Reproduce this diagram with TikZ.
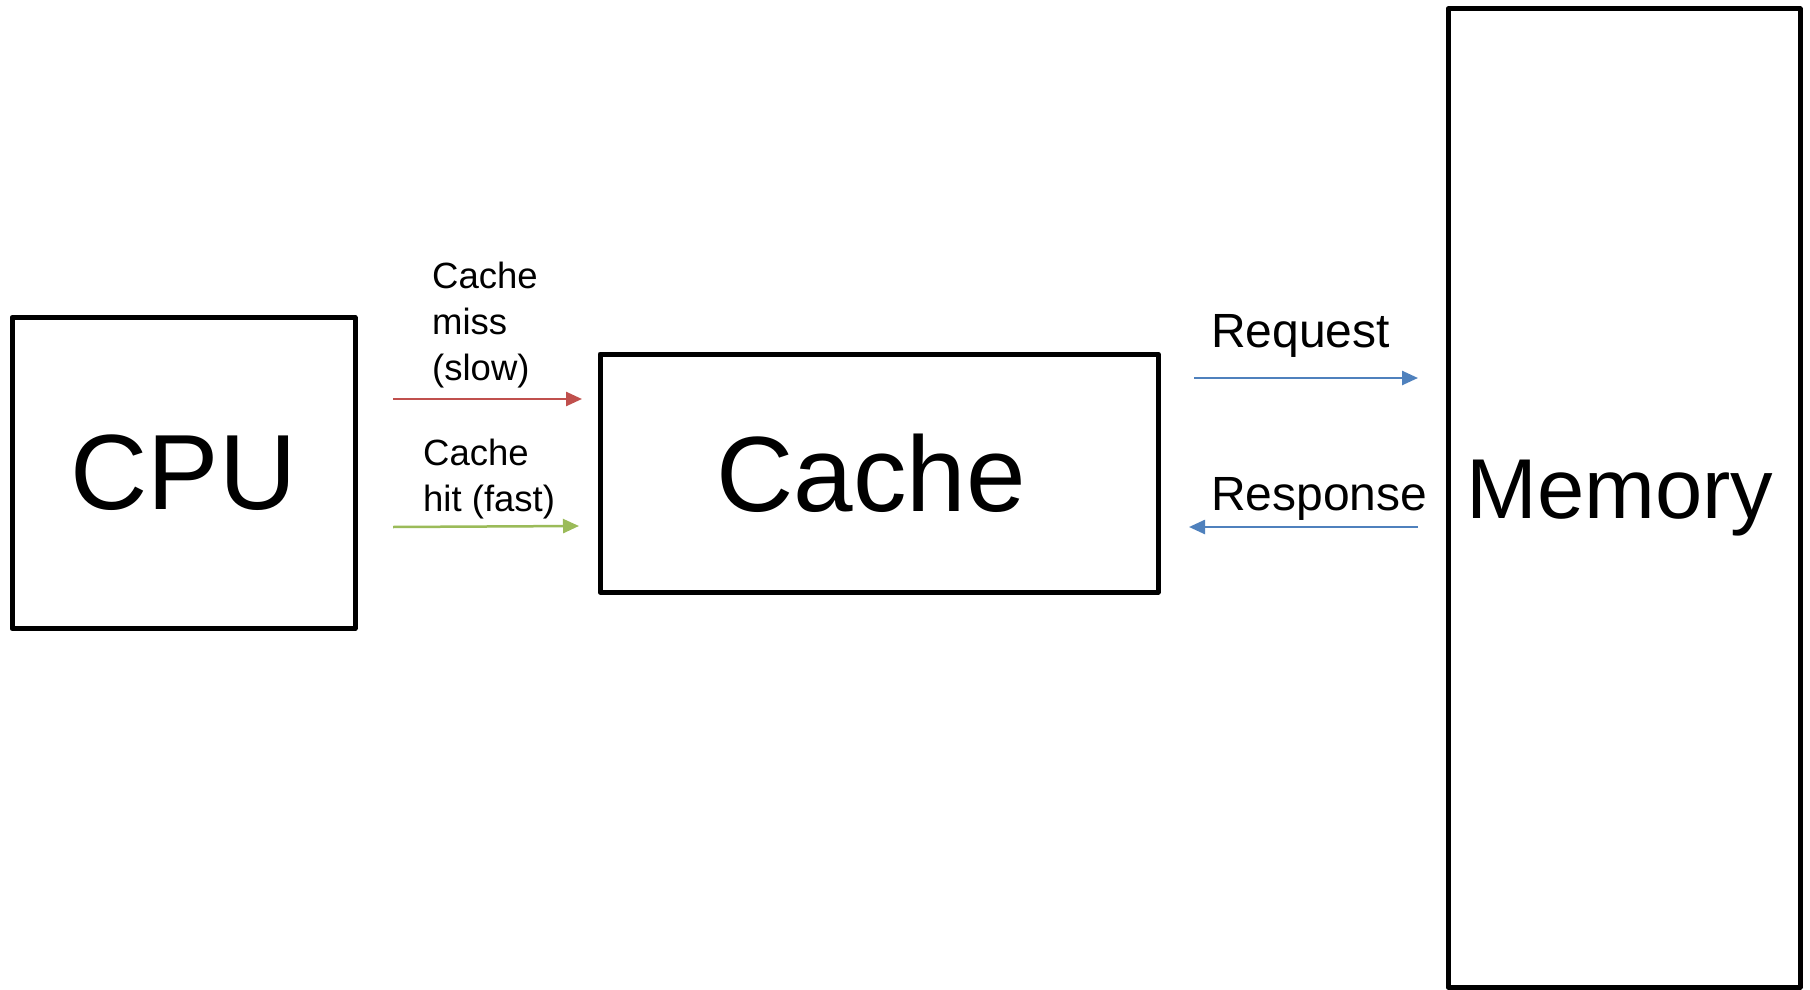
\documentclass[tikz,border=0pt]{standalone}
\usepackage{fontspec}
\setmainfont{Liberation Sans}
\usetikzlibrary{arrows.meta}
\definecolor{missred}{HTML}{C0504D}
\definecolor{hitgreen}{HTML}{9BBB59}
\definecolor{busblue}{HTML}{4F81BD}
\begin{document}
\begin{tikzpicture}[x=1pt,y=-1pt,
  box/.style={draw,line width=5pt,line join=round,inner sep=0pt,fill=white},
  conn/.style={line width=2.5pt,-{Triangle[length=16pt,width=14pt]}},
  smalllabel/.style={inner sep=0pt,align=left,font=\fontsize{36.5}{46}\selectfont},
  buslabel/.style={inner sep=0pt,font=\fontsize{48}{57}\selectfont}]
\useasboundingbox (0,0) rectangle (1810,990);
\fill[white] (0,0) rectangle (1810,990);

\node[box,minimum width=343pt,minimum height=311pt,font=\fontsize{107}{128}\selectfont] (cpu) at (183.5,473) {CPU};
\node[box,minimum width=558pt,minimum height=238pt] (cache) at (879,473) {};
\node[inner sep=0pt,font=\fontsize{107}{128}\selectfont] (cachelbl) at (871,473) {Cache};
\node[box,minimum width=352pt,minimum height=978pt] (mem) at (1624,498) {};
\node[inner sep=0pt,font=\fontsize{85}{102}\selectfont] (memlbl) at (1620,498) {Memory};

\coordinate (missA) at (393,399);
\coordinate (missB) at (582,399);
\coordinate (hitA) at (393,527);
\coordinate (hitB) at (579,526);
\coordinate (reqA) at (1194,378);
\coordinate (reqB) at (1418,378);
\coordinate (resA) at (1418,527);
\coordinate (resB) at (1189,527);

\draw[conn,missred] (missA) -- (missB);
\draw[conn,hitgreen] (hitA) -- (hitB);
\draw[conn,busblue] (reqA) -- (reqB);
\draw[conn,busblue] (resA) -- (resB);

\node[smalllabel,anchor=north west] (misslbl) at (432,262) {Cache\\miss\\(slow)};
\node[smalllabel,anchor=north west] (hitlbl) at (423,439) {Cache\\hit (fast)};
\node[buslabel,anchor=base west] (reqlbl) at (1211,347) {Request};
\node[buslabel,anchor=base west] (reslbl) at (1211,510) {Response};
\end{tikzpicture}
\end{document}
